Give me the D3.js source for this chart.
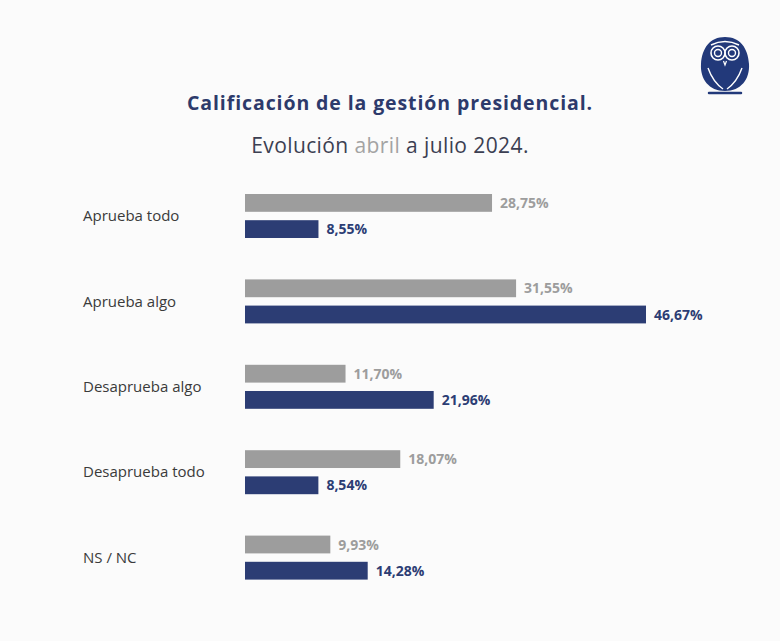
<!DOCTYPE html>
<html>
  <head>
    <meta charset="utf-8" />
    <script src="https://d3js.org/d3.v7.min.js"></script>
    <style>
      body { margin: 0; background: #fbfbfb; }
      svg { font-family: "Open Sans", "Noto Sans", sans-serif; }
    </style>
  </head>
  <body>
    <script>
      // data
      const categories = ["Aprueba todo", "Aprueba algo", "Desaprueba algo", "Desaprueba todo", "NS / NC"];
      const series = ["abril", "julio"];
      const abril = [28.75, 31.55, 11.70, 18.07, 9.93];
      const julio = [8.55, 46.67, 21.96, 8.54, 14.28];
      const colors = { abril: "#9d9d9d", julio: "#2c3d74" };

      const width = 780, height = 641;
      const svg = d3.select("body").append("svg")
        .attr("width", width)
        .attr("height", height);

      svg.append("rect").attr("width", width).attr("height", height).attr("fill", "#fbfbfb");

      // titles
      svg.append("text")
        .attr("x", 390).attr("y", 110)
        .attr("text-anchor", "middle")
        .attr("font-size", 19.5)
        .attr("font-weight", "bold")
        .attr("letter-spacing", 0.9)
        .attr("fill", "#2d3a6b")
        .text("Calificación de la gestión presidencial.");

      const sub = svg.append("text")
        .attr("x", 390).attr("y", 153)
        .attr("text-anchor", "middle")
        .attr("font-size", 21)
        .attr("letter-spacing", 0.4)
        .attr("fill", "#3c3f52");
      sub.append("tspan").text("Evolución ");
      sub.append("tspan").attr("fill", "#a3a3a3").text("abril");
      sub.append("tspan").text(" a julio 2024.");

      // scales
      const x = d3.scaleLinear().domain([0, 46.67]).range([245, 646]);
      const y = d3.scaleBand().domain(categories).range([185, 612]).paddingInner(0);
      const inner = d3.scaleBand().domain(series).range([9, 53]).paddingInner(0.32);

      const rows = categories.map((c, i) => ({ cat: c, abril: abril[i], julio: julio[i] }));

      const g = svg.selectAll(".row").data(rows).join("g")
        .attr("class", "row")
        .attr("transform", d => `translate(0,${y(d.cat)})`);

      g.append("text")
        .attr("x", 83)
        .attr("y", (inner("abril") + inner("julio") + inner.bandwidth()) / 2)
        .attr("dy", "0.35em")
        .attr("font-size", 15)
        .attr("fill", "#3a3a3a")
        .text(d => d.cat);

      series.forEach(s => {
        g.append("rect")
          .attr("x", x(0))
          .attr("y", inner(s))
          .attr("width", d => x(d[s]) - x(0))
          .attr("height", inner.bandwidth())
          .attr("fill", colors[s]);

        g.append("text")
          .attr("x", d => x(d[s]) + 8)
          .attr("y", inner(s) + inner.bandwidth() / 2)
          .attr("dy", "0.36em")
          .attr("font-size", 14)
          .attr("font-weight", "bold")
          .attr("fill", colors[s])
          .text(d => d3.format(".2f")(d[s]).replace(".", ",") + "%");
      });

      // owl logo
      const logo = svg.append("g").attr("transform", "translate(725,64)");
      logo.append("path")
        .attr("d", "M0,-27 C15,-27 23,-16 24,0 C25,15 16,27 0,27 C-16,27 -25,15 -24,0 C-23,-16 -15,-27 0,-27 Z")
        .attr("fill", "#22397a");
      logo.append("path")
        .attr("d", "M-16,29 L16,29")
        .attr("stroke", "#22397a").attr("stroke-width", 2.5).attr("stroke-linecap", "round");
      [-7, 7].forEach(cx => {
        logo.append("circle").attr("cx", cx).attr("cy", -11).attr("r", 7)
          .attr("fill", "none").attr("stroke", "#fff").attr("stroke-width", 1.6);
        logo.append("circle").attr("cx", cx).attr("cy", -11).attr("r", 3.5)
          .attr("fill", "none").attr("stroke", "#fff").attr("stroke-width", 1.4);
      });
      logo.append("path")
        .attr("d", "M-14,-19 Q0,-26 14,-19")
        .attr("fill", "none").attr("stroke", "#fff").attr("stroke-width", 1.4);
      logo.append("path")
        .attr("d", "M-1.5,-3 L0,1 L1.5,-3")
        .attr("fill", "none").attr("stroke", "#fff").attr("stroke-width", 1.2);
      logo.append("path")
        .attr("d", "M-17,4 Q-12,18 -2,25 M17,4 Q12,18 2,25")
        .attr("fill", "none").attr("stroke", "#fff").attr("stroke-width", 1.4);
    </script>
  </body>
</html>
